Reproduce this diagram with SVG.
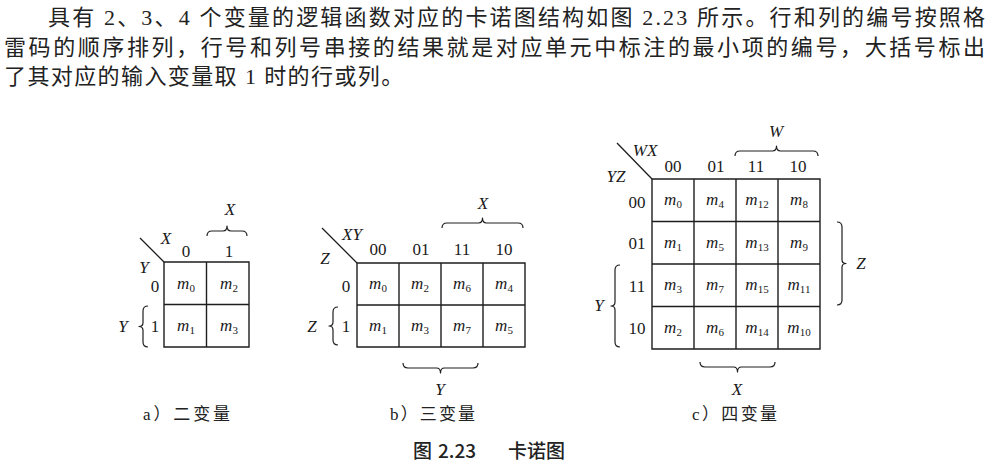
<svg xmlns="http://www.w3.org/2000/svg" width="992" height="465" viewBox="0 0 992 465">
  <style>
    .para { font-family: "Liberation Serif", "Noto Sans CJK SC", serif; font-size: 22px; fill: #222; }
    .grid { fill: none; stroke: #1e1e1e; stroke-width: 1.4; }
    .diag { fill: none; stroke: #1e1e1e; stroke-width: 1.3; }
    .brace { fill: none; stroke: #1e1e1e; stroke-width: 1.2; stroke-linejoin: round; }
    .var { font-family: "Liberation Serif", serif; font-style: italic; font-size: 17px; fill: #1a1a1a; text-anchor: middle; }
    .num { font-family: "Liberation Serif", serif; font-size: 17px; fill: #1a1a1a; text-anchor: middle; }
    .cell { font-family: "Liberation Serif", serif; font-style: italic; font-size: 17px; fill: #1a1a1a; text-anchor: middle; }
    .sub { font-style: normal; font-size: 11px; }
    .cap { font-family: "Liberation Serif", "Noto Sans CJK SC", serif; font-size: 17px; fill: #222; }
    .title { font-family: "Noto Sans CJK SC", "Liberation Sans", sans-serif; font-size: 19px; font-weight: 500; fill: #222; }
  </style>
  <rect width="992" height="465" fill="#ffffff"/>

  <!-- introductory paragraph -->
  <g id="paragraph">
    <text class="para" x="48" y="25" textLength="937" lengthAdjust="spacing">具有 2、3、4 个变量的逻辑函数对应的卡诺图结构如图 2.23 所示。行和列的编号按照格</text>
    <text class="para" x="4" y="55" textLength="981" lengthAdjust="spacing">雷码的顺序排列，行号和列号串接的结果就是对应单元中标注的最小项的编号，大括号标出</text>
    <text class="para" x="4" y="84" letter-spacing="1.4">了其对应的输入变量取 1 时的行或列。</text>
  </g>

  <!-- a) two-variable map -->
  <g id="map-a">
    <path class="grid" d="M164,262 H249 V347 H164 Z M206.5,262 V347 M164,304.5 H249"/>
    <path class="diag" d="M140,238 L164,262"/>
    <text class="var" x="166" y="244">X</text>
    <text class="var" x="144" y="273">Y</text>
    <text class="num" x="186" y="257">0</text>
    <text class="num" x="229" y="257">1</text>
    <text class="var" x="230" y="215">X</text>
    <path class="brace" d="M207,236 Q207,231 212,231 L223,231 Q227,231 227,226 Q227,231 231,231 L242,231 Q247,231 247,236"/>
    <text class="num" x="155" y="292">0</text>
    <text class="num" x="155" y="332">1</text>
    <text class="var" x="123" y="332">Y</text>
    <path class="brace" d="M148,306 Q143,306 143,311 L143,322.5 Q143,326.5 139,326.5 Q143,326.5 143,330.5 L143,342 Q143,347 148,347"/>
    <text class="cell" x="186" y="289">m<tspan class="sub" dy="3">0</tspan></text>
    <text class="cell" x="229" y="289">m<tspan class="sub" dy="3">2</tspan></text>
    <text class="cell" x="186" y="331">m<tspan class="sub" dy="3">1</tspan></text>
    <text class="cell" x="229" y="331">m<tspan class="sub" dy="3">3</tspan></text>
    <text class="cap" x="143" y="420" textLength="87" lengthAdjust="spacing">a）二变量</text>
  </g>

  <!-- b) three-variable map -->
  <g id="map-b">
    <path class="grid" d="M357,263 H525 V347 H357 Z M399,263 V347 M441,263 V347 M483,263 V347 M357,305 H525"/>
    <path class="diag" d="M322,228 L357,263"/>
    <text class="var" x="352" y="240">XY</text>
    <text class="var" x="325" y="264">Z</text>
    <text class="num" x="378" y="255">00</text>
    <text class="num" x="421" y="255">01</text>
    <text class="num" x="462" y="255">11</text>
    <text class="num" x="504" y="255">10</text>
    <text class="var" x="483" y="209">X</text>
    <path class="brace" d="M442,228 Q442,223 447,223 L478.5,223 Q482.5,223 482.5,218 Q482.5,223 486.5,223 L518,223 Q523,223 523,228"/>
    <text class="num" x="346" y="292">0</text>
    <text class="num" x="346" y="332">1</text>
    <text class="var" x="312" y="332">Z</text>
    <path class="brace" d="M338,307 Q333,307 333,312 L333,322 Q333,326 329,326 Q333,326 333,330 L333,340 Q333,345 338,345"/>
    <text class="cell" x="378" y="289">m<tspan class="sub" dy="3">0</tspan></text>
    <text class="cell" x="420" y="289">m<tspan class="sub" dy="3">2</tspan></text>
    <text class="cell" x="462" y="289">m<tspan class="sub" dy="3">6</tspan></text>
    <text class="cell" x="504" y="289">m<tspan class="sub" dy="3">4</tspan></text>
    <text class="cell" x="378" y="331">m<tspan class="sub" dy="3">1</tspan></text>
    <text class="cell" x="420" y="331">m<tspan class="sub" dy="3">3</tspan></text>
    <text class="cell" x="462" y="331">m<tspan class="sub" dy="3">7</tspan></text>
    <text class="cell" x="504" y="331">m<tspan class="sub" dy="3">5</tspan></text>
    <path class="brace" d="M403,363 Q403,368 408,368 L436.5,368 Q440.5,368 440.5,373 Q440.5,368 444.5,368 L473,368 Q478,368 478,363"/>
    <text class="var" x="440" y="395">Y</text>
    <text class="cap" x="390" y="420" textLength="85" lengthAdjust="spacing">b）三变量</text>
  </g>

  <!-- c) four-variable map -->
  <g id="map-c">
    <path class="grid" d="M652,179 H820 V349 H652 Z M694,179 V349 M736,179 V349 M778,179 V349 M652,221.5 H820 M652,264 H820 M652,306.5 H820"/>
    <path class="diag" d="M617,143 L652,179"/>
    <text class="var" x="645" y="156">WX</text>
    <text class="var" x="616" y="182">YZ</text>
    <text class="num" x="673" y="172">00</text>
    <text class="num" x="716" y="172">01</text>
    <text class="num" x="756" y="172">11</text>
    <text class="num" x="798" y="172">10</text>
    <text class="var" x="776" y="137">W</text>
    <path class="brace" d="M735,156 Q735,151 740,151 L772.5,151 Q776.5,151 776.5,146 Q776.5,151 780.5,151 L813,151 Q818,151 818,156"/>
    <text class="num" x="637" y="208">00</text>
    <text class="num" x="637" y="249">01</text>
    <text class="num" x="637" y="292">11</text>
    <text class="num" x="637" y="334">10</text>
    <path class="brace" d="M837,222 Q842,222 842,227 L842,259.5 Q842,263.5 846,263.5 Q842,263.5 842,267.5 L842,300 Q842,305 837,305"/>
    <text class="var" x="861" y="269">Z</text>
    <path class="brace" d="M620,265 Q615,265 615,270 L615,302 Q615,306 611,306 Q615,306 615,310 L615,342 Q615,347 620,347"/>
    <text class="var" x="599" y="311">Y</text>
    <text class="cell" x="673" y="205">m<tspan class="sub" dy="3">0</tspan></text>
    <text class="cell" x="715" y="205">m<tspan class="sub" dy="3">4</tspan></text>
    <text class="cell" x="757" y="205">m<tspan class="sub" dy="3">12</tspan></text>
    <text class="cell" x="799" y="205">m<tspan class="sub" dy="3">8</tspan></text>
    <text class="cell" x="673" y="248">m<tspan class="sub" dy="3">1</tspan></text>
    <text class="cell" x="715" y="248">m<tspan class="sub" dy="3">5</tspan></text>
    <text class="cell" x="757" y="248">m<tspan class="sub" dy="3">13</tspan></text>
    <text class="cell" x="799" y="248">m<tspan class="sub" dy="3">9</tspan></text>
    <text class="cell" x="673" y="290">m<tspan class="sub" dy="3">3</tspan></text>
    <text class="cell" x="715" y="290">m<tspan class="sub" dy="3">7</tspan></text>
    <text class="cell" x="757" y="290">m<tspan class="sub" dy="3">15</tspan></text>
    <text class="cell" x="799" y="290">m<tspan class="sub" dy="3">11</tspan></text>
    <text class="cell" x="673" y="333">m<tspan class="sub" dy="3">2</tspan></text>
    <text class="cell" x="715" y="333">m<tspan class="sub" dy="3">6</tspan></text>
    <text class="cell" x="757" y="333">m<tspan class="sub" dy="3">14</tspan></text>
    <text class="cell" x="799" y="333">m<tspan class="sub" dy="3">10</tspan></text>
    <path class="brace" d="M700,362 Q700,367 705,367 L733.5,367 Q737.5,367 737.5,372 Q737.5,367 741.5,367 L770,367 Q775,367 775,362"/>
    <text class="var" x="737" y="395">X</text>
    <text class="cap" x="692" y="420" textLength="85" lengthAdjust="spacing">c）四变量</text>
  </g>

  <!-- figure title -->
  <g id="figure-title">
    <text class="title" y="458"><tspan x="413">图</tspan><tspan x="438">2.23</tspan><tspan x="508">卡诺图</tspan></text>
  </g>
</svg>
